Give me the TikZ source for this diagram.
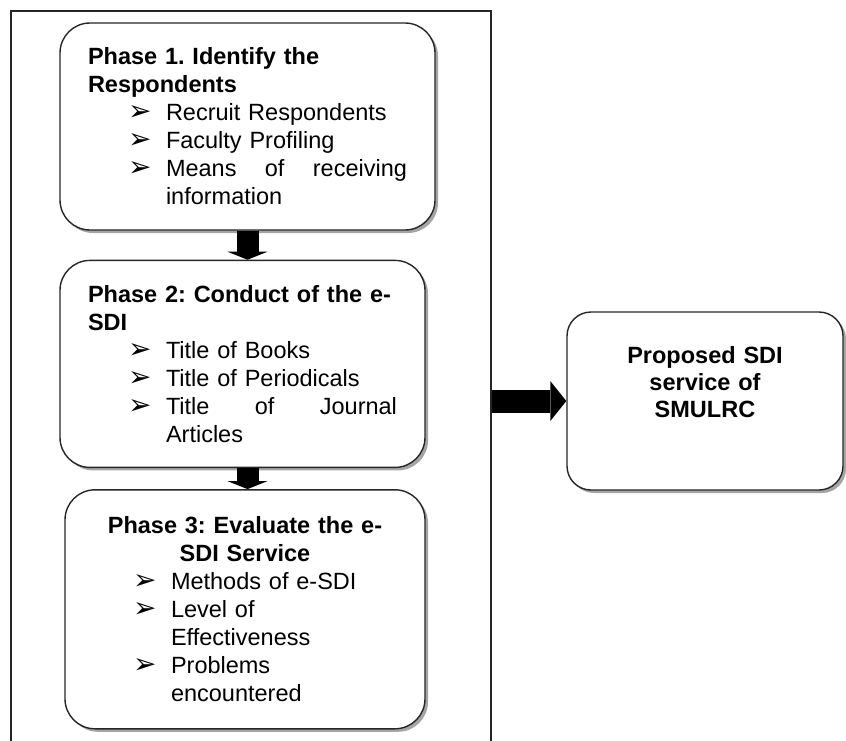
\documentclass[tikz,border=0pt]{standalone}
\usepackage{fontspec}
\setmainfont{Liberation Sans}
\setsansfont{Liberation Sans}
\newfontfamily\symfont{DejaVu Sans}
\usetikzlibrary{arrows.meta}
\usetikzlibrary{shadows}
\usetikzlibrary{positioning}

\setlength{\parindent}{0pt}
\setlength{\parskip}{0pt}
\frenchspacing

\newcommand{\bullsym}{{\symfont\bfseries\fontsize{14}{14}\selectfont ➢}}
\newcommand{\bitem}[1]{\par\hangindent=39pt\hangafter=0\noindent\llap{\makebox[19pt][l]{\bullsym}}#1\par}

\begin{document}
\begin{tikzpicture}[x=1pt,y=1pt,
                    font=\fontsize{11.75}{14}\selectfont,
                    node distance=14.5pt,
                    outerframe/.style={draw=black!85,line width=1pt,inner sep=0pt},
                    box/.style={draw=black!85,line width=.7pt,fill=white,rounded corners=15pt,
                                drop shadow={shadow xshift=1.5pt,shadow yshift=-1.5pt,fill=black!70,opacity=.5}},
                    phase/.style={box,align=left,inner xsep=14pt,inner ysep=0pt},
                    result/.style={box,align=center,rounded corners=12pt,font=\fontsize{11.75}{13.5}\selectfont\bfseries},
                    fatdown/.style={line width=11pt,-{Triangle[length=4pt,width=20pt,line width=0pt]}},
                    fatright/.style={line width=11.5pt,-{Triangle[length=8pt,width=20pt,line width=0pt]}},
                    ]
    \useasboundingbox (0,0) rectangle (423,-370);

    \node[outerframe,anchor=north west,minimum width=240pt,minimum height=380pt] (frame) at (5,-5) {};

    \node[phase,minimum width=187.5pt,minimum height=103.5pt,text width=159.5pt] (phase1) at (123.75,-63.25)
      {{\bfseries Phase 1. Identify the\par Respondents\par}
       \bitem{Recruit Respondents}
       \bitem{Faculty Profiling}
       \bitem{Means\hfill of\hfill receiving\newline information}};
    \node[phase,below=of phase1,xshift=-2.5pt,minimum width=182.5pt,minimum height=103.5pt,text width=154.5pt] (phase2)
      {{\bfseries Phase 2: Conduct of the e-\par SDI\par}
       \bitem{Title of Books}
       \bitem{Title of Periodicals}
       \bitem{Title\hfill of\hfill Journal\newline Articles}};
    \node[phase,below=10.5pt of phase2,xshift=1.25pt,minimum width=180pt,minimum height=119.5pt,text width=152pt] (phase3)
      {{\centering\bfseries Phase 3: Evaluate the e-\par SDI Service\par}
       \bitem{Methods of e-SDI}
       \bitem{Level of\newline Effectiveness}
       \bitem{Problems\newline encountered}};

    \node[result,minimum width=138pt,minimum height=89pt,text width=110pt,text depth=46pt] (result) at (352.5,-200.5)
      {Proposed SDI\\service of\\SMULRC};

    \draw[fatdown] (phase1.south) -- (phase1.south |- phase2.north);
    \draw[fatdown] (phase2.south -| phase1.south) -- (phase3.north -| phase1.south);
    \draw[fatright] (frame.east |- result.west) -- (result.west);
\end{tikzpicture}
\end{document}
